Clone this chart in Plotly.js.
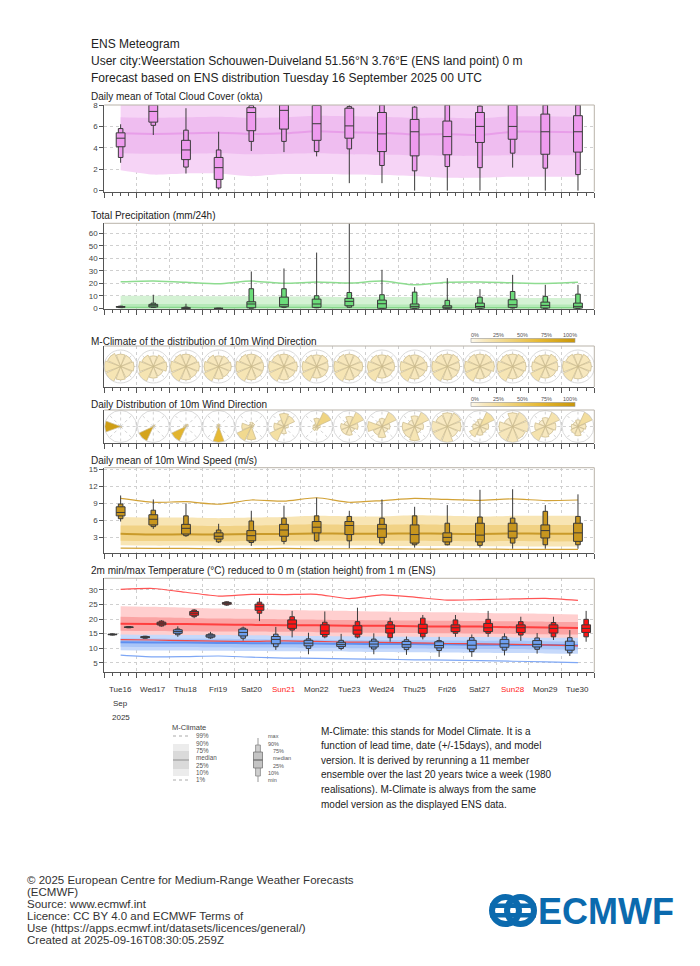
<!DOCTYPE html>
<html><head><meta charset="utf-8">
<script src="https://cdn.plot.ly/plotly-3.0.1.min.js"></script>
<style>html,body{margin:0;padding:0;background:#fff}#chart{width:700px;height:966px}</style>
</head><body><div id="chart"></div>
<script>
// ---------------- DATA ----------------
const dates = ['2025-09-16','2025-09-17','2025-09-18','2025-09-19','2025-09-20','2025-09-21','2025-09-22','2025-09-23','2025-09-24','2025-09-25','2025-09-26','2025-09-27','2025-09-28','2025-09-29','2025-09-30'];
const dayLabels = ['Tue16','Wed17','Thu18','Fri19','Sat20','Sun21','Mon22','Tue23','Wed24','Thu25','Fri26','Sat27','Sun28','Mon29','Tue30'];

// Total cloud cover (okta)
const cloudMin = [2.6,5.2,1.6,0.1,3.7,3.6,3.2,0.7,0.7,0.0,0.0,0.0,2.15,0.0,0.0];
const cloudP10 = [3.1,6.1,2.2,0.25,4.6,4.6,3.65,3.9,2.35,1.85,2.25,2.15,3.5,2.1,1.5];
const cloudP25 = [4.1,6.4,2.9,1.05,5.6,5.75,4.7,4.9,3.65,3.25,3.35,4.5,4.8,3.4,3.6];
const cloudMed = [4.9,7.4,3.8,2.15,7.3,7.5,6.25,6.05,5.3,5.5,5.05,6.0,6.0,5.5,5.5];
const cloudP75 = [5.4,8.0,4.7,3.1,7.75,8.0,7.95,7.7,7.3,6.65,6.5,7.3,8.0,7.15,7.0];
const cloudP90 = [5.8,8.0,5.65,3.8,7.95,8.0,8.0,7.85,8.0,7.8,8.0,7.9,8.0,8.0,8.0];
const cloudMax = [6.2,8.0,7.7,5.5,8.0,8.0,8.0,8.0,8.0,7.9,8.0,8.0,8.0,8.0,8.0];
const cloudClim10 = [1.9,1.5,1.6,1.6,1.35,1.55,1.55,1.5,1.45,1.35,1.2,1.2,1.3,1.3,1.3];
const cloudClim25 = [3.5,3.45,3.45,3.5,3.4,3.45,3.5,3.4,3.35,3.3,3.25,3.25,3.3,3.3,3.3];
const cloudClimMed = [5.35,5.3,5.35,5.4,5.3,5.35,5.55,5.45,5.4,5.25,5.3,5.2,5.5,5.5,5.45];
const cloudClim75 = [6.85,6.8,6.85,6.9,6.8,6.85,7.0,6.95,6.9,6.8,6.8,6.75,6.95,6.95,6.9];
const cloudClim90 = [8,8,8,8,8,8,8,8,8,8,8,8,8,8,8];

// Total precipitation (mm/24h)
const precMin = [0.4,0.3,0,0,0,0.2,0.2,0.5,0,0,0,0,0,0,0];
const precP10 = [0.6,0.8,0,0,0.1,0.8,0.5,0.9,0,0,0,0,0.3,0,0];
const precP25 = [0.9,1.1,0.05,0,0.5,1.3,0.8,2.1,0.1,0.2,0.1,0.2,0.8,0.3,0.2];
const precMed = [1.2,2.1,0.2,0,3.5,2.9,3.5,5.6,3.7,1.6,0.9,1.5,2.9,2.4,1.6];
const precP75 = [1.5,3.2,0.5,0,5.3,9.0,7.4,8.0,6.6,3.5,2.1,4.2,6.9,5.0,4.2];
const precP90 = [1.8,4.2,1.0,0,15.7,15.7,10.1,12.7,10.9,13.0,6.4,9.0,13.5,9.6,11.4];
const precMax = [2.0,10.9,3.7,0,29.5,31.9,44.6,72,30.8,17.0,24.2,15.4,26.8,18.8,18.8];
const precClim25 = [0,0,0,0,0,0,0,0,0,0,0,0,0,0,0];
const precClimMed = [0.6,0.6,0.6,0.5,0.6,0.6,0.6,0.5,0.5,0.5,0.5,0.5,0.5,0.5,0.5];
const precClim75 = [3.5,3.4,3.4,3.3,3.3,3.3,3.2,3.2,3.1,3.1,3.1,3.0,3.0,3.0,3.0];
const precClim90 = [10.1,10.0,9.9,9.7,9.6,9.4,9.3,9.1,9.0,8.9,8.7,8.6,8.5,8.3,8.2];
const precClim99 = [21.2,21.9,20.8,19.7,21.8,20.0,21.1,20.2,21.8,18.8,20.9,21.1,20.4,19.9,20.8];

// Wind direction frequencies (%) per sector
const dirs = ['N','NE','E','SE','S','SW','W','NW'];
const climRose = [
 [12,12,13,12,13,16,16,14],[11,13,14,11,12,17,15,13],[12,12,13,12,13,16,15,13],[11,12,13,12,13,17,15,13],
 [12,12,12,12,13,16,15,13],[12,12,13,12,13,16,15,13],[12,13,12,12,12,17,15,13],[12,12,13,12,13,16,15,13],
 [12,13,13,12,12,17,15,13],[12,12,13,12,13,17,15,13],[12,13,12,12,13,16,15,13],[12,13,14,12,12,16,15,13],
 [12,13,13,12,12,16,15,13],[12,14,13,12,12,17,14,13],[12,13,13,12,12,16,15,13]];
const dailyRose = [
 [0,0,0,8,0,0,92,0],[4,10,0,0,0,86,0,0],[8,12,0,0,0,70,10,0],[10,7,0,0,65,10,0,8],
 [8,7,4,3,25,30,18,5],[18,16,6,4,10,22,14,10],[18,35,8,6,8,10,8,7],[14,22,12,8,12,12,12,8],
 [10,20,10,8,14,12,18,8],[12,18,10,8,16,14,14,8],[12,13,12,10,14,14,14,11],[10,22,12,10,12,16,10,8],
 [12,14,14,12,14,14,12,8],[10,18,12,10,12,18,12,8],[10,24,12,10,14,12,10,8]];
const roseTicks = ['0%','25%','50%','75%','100%'];

// 10m wind speed (m/s)
const windMin = [5.8,4.5,3.1,2.0,1.5,1.8,2.2,1.1,1.6,1.2,1.6,1.2,1.0,1.0,1.0];
const windP10 = [6.3,4.9,3.3,2.2,2.1,2.3,2.4,2.4,2.0,1.7,1.7,1.6,2.0,1.7,1.7];
const windP25 = [6.8,5.2,3.6,2.7,2.4,3.2,3.8,3.5,3.0,2.0,2.2,2.2,2.9,2.9,2.3];
const windMed = [7.4,6.2,4.6,3.2,3.3,4.3,4.8,5.1,4.5,3.5,3.0,3.4,4.1,4.2,3.8];
const windP75 = [8.4,7.0,5.3,3.8,4.2,5.3,5.8,5.8,5.3,5.2,3.8,5.5,5.5,5.2,5.5];
const windP90 = [8.9,7.8,6.8,4.3,5.9,6.4,6.8,6.7,6.4,6.8,5.5,6.6,6.4,7.6,6.7];
const windMax = [10.4,9.7,9.0,5.4,7.7,8.6,10.0,7.7,9.7,8.4,8.7,11.4,11.5,8.7,10.6];
const windClim1 = [1.1,1.05,1.05,1.0,1.0,1.05,1.0,1.0,1.0,0.95,0.95,0.95,0.9,0.9,0.9];
const windClim10 = [1.6,1.55,1.55,1.5,1.55,1.55,1.55,1.55,1.5,1.5,1.5,1.45,1.45,1.4,1.4];
const windClim25 = [2.4,2.35,2.35,2.3,2.35,2.4,2.4,2.4,2.4,2.4,2.35,2.3,2.35,2.3,2.3];
const windClimMed = [3.65,3.5,3.55,3.5,3.6,3.6,3.7,3.65,3.65,3.7,3.65,3.6,3.7,3.65,3.65];
const windClim75 = [5.1,5.1,5.1,5.0,5.1,5.2,5.3,5.2,5.2,5.3,5.2,5.2,5.2,5.2,5.2];
const windClim90 = [6.6,6.5,6.5,6.4,6.5,6.6,6.8,6.7,6.7,6.9,6.8,6.7,6.8,6.8,6.8];
const windClim99 = [9.9,9.2,9.3,8.85,9.6,9.4,10.0,9.2,9.5,9.9,9.7,9.55,9.8,9.5,9.6];

// 2m max temperature (°C)
const tmaxMin = [16.9,17.4,20.3,24.5,19.3,13.7,13.4,13.4,12.2,13.0,13.9,13.9,12.5,12.8,12.2];
const tmaxP10 = [17.0,17.6,20.8,24.8,22.0,16.2,13.9,13.8,13.6,13.9,15.1,15.1,14.5,13.9,13.9];
const tmaxP25 = [17.1,18.0,21.3,25.1,23.0,16.8,14.7,14.8,15.2,15.1,15.7,15.7,15.4,15.2,15.4];
const tmaxMed = [17.2,18.4,22.0,25.4,24.2,18.3,15.9,16.2,16.8,16.8,17.0,17.0,17.0,16.8,16.8];
const tmaxP75 = [17.3,18.9,22.6,25.7,25.1,19.7,18.0,17.7,18.0,18.2,18.0,18.5,18.0,18.0,18.0];
const tmaxP90 = [17.4,19.3,23.1,25.9,25.8,20.8,18.9,19.1,19.1,20.3,19.7,19.9,19.1,18.8,19.9];
const tmaxMax = [17.5,19.6,23.4,26.1,27.2,22.8,22.6,23.9,20.5,21.4,21.4,22.8,20.8,20.8,22.8];
const tmaxClim1 = [12.9,12.8,12.6,12.4,12.3,12.5,12.3,12.1,12.0,11.8,11.6,11.5,11.3,11.1,10.8];
const tmaxClim10 = [14.3,14.2,14.1,14.0,13.9,13.9,13.8,13.7,13.6,13.5,13.4,13.3,13.2,13.0,12.9];
const tmaxClim25 = [16.0,15.9,15.8,15.7,15.7,15.6,15.5,15.4,15.3,15.2,15.1,15.0,14.9,14.8,14.7];
const tmaxClimMed = [18.4,18.3,18.3,18.1,18.0,17.9,17.9,17.7,17.7,17.5,17.4,17.4,17.2,17.1,16.9];
const tmaxClim75 = [20.8,20.6,20.4,20.2,20.1,19.9,19.8,19.7,19.6,19.5,19.4,19.3,19.2,19.1,19.0];
const tmaxClim90 = [24.4,24.2,23.9,23.6,23.4,23.2,22.9,22.8,22.6,22.4,22.3,22.1,22.0,21.8,21.6];
const tmaxClim99 = [30.2,30.5,29.2,27.9,28.5,28.4,28.5,27.0,28.3,27.5,26.5,26.7,26.9,27.1,26.4];

// 2m min temperature (°C)
const tminMin = [14.4,13.3,13.9,13.2,12.6,9.4,7.9,9.3,7.9,7.7,7.0,7.0,7.5,8.1,7.3];
const tminP10 = [14.5,13.4,14.6,13.5,13.4,10.5,9.9,9.9,9.7,9.5,9.2,8.8,9.3,9.6,8.4];
const tminP25 = [14.6,13.6,15.1,13.8,14.2,11.5,10.8,10.6,10.4,10.3,10.1,9.7,10.3,10.4,9.3];
const tminMed = [14.7,13.8,15.7,14.2,15.4,13.0,11.7,11.3,11.4,11.2,10.9,11.0,11.5,11.3,10.9];
const tminP75 = [14.8,13.95,16.3,14.6,16.5,14.0,12.7,12.0,12.4,12.3,12.2,12.7,13.0,12.6,12.4];
const tminP90 = [14.9,14.1,16.6,14.9,16.9,14.8,13.2,12.7,13.1,12.9,12.6,13.6,13.9,13.5,13.6];
const tminMax = [15.0,14.2,17.5,15.6,17.4,17.3,15.3,14.9,15.1,14.0,13.9,14.7,15.1,15.2,16.2];
const tminClim1 = [7.6,7.0,7.1,7.3,6.9,6.6,6.5,6.3,6.2,6.0,5.9,5.7,5.5,5.3,5.0];
const tminClim10 = [9.3,9.2,9.2,9.1,9.0,8.9,8.9,8.8,8.7,8.6,8.5,8.4,8.3,8.2,8.1];
const tminClim25 = [10.5,10.4,10.4,10.3,10.2,10.2,10.1,10.0,9.9,9.9,9.8,9.7,9.7,9.6,9.5];
const tminClimMed = [12.0,11.9,11.9,11.8,11.7,11.7,11.6,11.5,11.4,11.4,11.3,11.2,11.1,11.1,11.0];
const tminClim75 = [13.4,13.3,13.2,13.2,13.1,13.0,12.9,12.8,12.7,12.7,12.6,12.5,12.5,12.4,12.3];
const tminClim90 = [14.7,14.6,14.5,14.5,14.4,14.3,14.2,14.1,14.0,13.9,13.8,13.8,13.7,13.6,13.6];

// ---------------- LAYOUT HELPERS ----------------
const W = 700, H = 966;
const fx = p => p / W, fy = p => 1 - p / H;
const X0 = 104.3, X1 = 594.3;
const FONT = 'Liberation Sans, Arial, sans-serif';
const noon = dates.map(d => d + ' 12:00');
const morning = dates.map(d => d + ' 06:00');
const evening = dates.map(d => d + ' 18:00');
const DAY = 86400000;
const BW_IN = 0.27 * DAY, BW_OUT = 0.14 * DAY;

const P = { // top, bottom in pixels
  cloud: [105, 191.5], prec: [223.3, 309], clim: [346, 387], daily: [410, 443], wind: [467.7, 552.7], temp: [578.3, 672.3]
};

function xAxis(anchor) {
  return {domain: [fx(X0), fx(X1)], anchor, type: 'date', range: ['2025-09-16', '2025-10-01'],
    tickmode: 'linear', tick0: '2025-09-16', dtick: DAY, ticks: 'outside', ticklen: 5, tickcolor: '#555', tickwidth: 1,
    showticklabels: false, showgrid: true, gridcolor: '#cfcfcf', griddash: 'dot', gridwidth: 1,
    showline: true, linecolor: '#555', linewidth: 1, zeroline: false, fixedrange: true,
    minor: {tick0: '2025-09-16', dtick: DAY / 4, ticks: 'outside', ticklen: 3, tickcolor: '#555', showgrid: false}};
}
function yAxis(anchor, pan, range, tickvals) {
  const a = {domain: [fy(pan[1]), fy(pan[0])], anchor, range, zeroline: false, fixedrange: true,
    showline: true, linecolor: '#555', linewidth: 1};
  if (tickvals) {
    Object.assign(a, {tickmode: 'array', tickvals, ticks: 'outside', ticklen: 4, tickcolor: '#555',
      tickfont: {size: 8, color: '#444', family: FONT}, showgrid: true, gridcolor: '#cfcfcf', griddash: 'dot'});
  } else {
    Object.assign(a, {showticklabels: false, ticks: '', showgrid: false});
  }
  return a;
}
function overlayY(base, range, anchor) {
  return {overlaying: base, range, visible: false, fixedrange: true, anchor};
}

const traces = [];
function band(xa, ya, lo, hi, color) {
  traces.push({type: 'scatter', x: noon, y: lo, mode: 'lines', line: {width: 0, shape: 'spline', smoothing: 0.6}, xaxis: xa, yaxis: ya, hoverinfo: 'skip', showlegend: false});
  traces.push({type: 'scatter', x: noon, y: hi, mode: 'lines', line: {width: 0, shape: 'spline', smoothing: 0.6}, fill: 'tonexty', fillcolor: color, xaxis: xa, yaxis: ya, hoverinfo: 'skip', showlegend: false});
}
function cline(xa, ya, y, color, width) {
  traces.push({type: 'scatter', x: noon, y, mode: 'lines', line: {color, width, shape: 'spline', smoothing: 0.6}, xaxis: xa, yaxis: ya, hoverinfo: 'skip', showlegend: false});
}
function boxes(xa, ya, xs, mn, p10, p25, med, p75, p90, mx, fill) {
  traces.push({type: 'box', x: xs, lowerfence: mn, q1: p10, median: med, q3: p90, upperfence: mx, width: BW_OUT, whiskerwidth: 0,
    fillcolor: fill, line: {color: '#3a3a3a', width: 1}, boxpoints: false, hoverinfo: 'skip', xaxis: xa, yaxis: ya, showlegend: false});
  traces.push({type: 'box', x: xs, lowerfence: p25, q1: p25, median: med, q3: p75, upperfence: p75, width: BW_IN, whiskerwidth: 0,
    fillcolor: fill, line: {color: '#3a3a3a', width: 1}, boxpoints: false, hoverinfo: 'skip', xaxis: xa, yaxis: ya, showlegend: false});
}

// dummy traces so frames 3/4 exist
traces.push({type: 'scatter', x: [], y: [], xaxis: 'x3', yaxis: 'y3', showlegend: false});
traces.push({type: 'scatter', x: [], y: [], xaxis: 'x4', yaxis: 'y4', showlegend: false});

// Cloud
band('x', 'y', cloudClim10, cloudClim90, '#f6d4f6');
band('x', 'y', cloudClim25, cloudClim75, '#efbdf0');
cline('x', 'y', cloudClimMed, '#e89ee9', 2);
boxes('x', 'y7', noon, cloudMin, cloudP10, cloudP25, cloudMed, cloudP75, cloudP90, cloudMax, '#ee9bee');
// Precip
band('x2', 'y2', precClim25, precClim90, '#d4f2d4');
band('x2', 'y2', precClim25, precClim75, '#b6e9b8');
cline('x2', 'y2', precClimMed, '#86d88a', 1.5);
cline('x2', 'y2', precClim99, '#8edc90', 1.5);
boxes('x2', 'y8', noon, precMin, precP10, precP25, precMed, precP75, precP90, precMax, '#6cdc7a');
// Wind
band('x5', 'y5', windClim10, windClim90, '#f8e5b4');
band('x5', 'y5', windClim25, windClim75, '#f1d285');
cline('x5', 'y5', windClimMed, '#c99a2a', 2);
cline('x5', 'y5', windClim1, '#d2a237', 1.2);
cline('x5', 'y5', windClim99, '#d2a237', 1.2);
boxes('x5', 'y9', noon, windMin, windP10, windP25, windMed, windP75, windP90, windMax, '#c8961e');
// Temperature
band('x6', 'y6', tmaxClim10, tmaxClim90, '#ffcfcf');
band('x6', 'y6', tmaxClim25, tmaxClim75, '#fba4a4');
band('x6', 'y6', tminClim10, tminClim90, '#c6d9fb');
band('x6', 'y6', tminClim25, tminClim75, '#a9c5f8');
cline('x6', 'y6', tminClimMed, '#5f8ff0', 2);
cline('x6', 'y6', tminClim1, '#7ea7f5', 1.2);
cline('x6', 'y6', tmaxClimMed, '#ff3f3f', 2);
cline('x6', 'y6', tmaxClim1, '#ee4a4a', 1.2);
cline('x6', 'y6', tmaxClim99, '#ff5555', 1.2);
boxes('x6', 'y10', morning, tminMin, tminP10, tminP25, tminMed, tminP75, tminP90, tminMax, '#6e9ff0');
boxes('x6', 'y10', evening, tmaxMin, tmaxP10, tmaxP25, tmaxMed, tmaxP75, tmaxP90, tmaxMax, '#ff1414');

// Wind roses
const roseScale = [[0, '#fdf8ea'], [0.12, '#f7e8bf'], [0.3, '#f1d98f'], [0.65, '#e6b934'], [1, '#c8960a']];
const layoutPolar = {};
const dayW = (X1 - X0) / dates.length;
function rose(rows, cy, startIdx, cbTop, R) {
  rows.forEach((vals, i) => {
    const n = startIdx + i;
    const key = n === 1 ? 'polar' : 'polar' + n;
    const cx = X0 + dayW * (i + 0.5);
    const tr = {type: 'barpolar', r: vals, theta: dirs, subplot: key, hoverinfo: 'skip', showlegend: false,
      marker: {color: vals, colorscale: roseScale, cmin: 0, cmax: 100, line: {color: '#c9b88a', width: 0.7}, showscale: i === 0}};
    if (i === 0) {
      tr.marker.colorbar = {orientation: 'h', x: fx(471), xanchor: 'left', y: fy(cbTop + 5), yanchor: 'bottom',
        len: 104, lenmode: 'pixels', thickness: 4, thicknessmode: 'pixels', outlinewidth: 0.6, outlinecolor: '#999',
        showticklabels: false, ticks: '', xpad: 0, ypad: 0};
    }
    traces.push(tr);
    layoutPolar[key] = {domain: {x: [fx(cx - R), fx(cx + R)], y: [fy(cy + R), fy(cy - R)]}, bgcolor: 'rgba(0,0,0,0)',
      angularaxis: {type: 'category', categoryarray: dirs, direction: 'clockwise', rotation: 90, showticklabels: false, ticks: '',
        showline: true, linecolor: '#d0d0d0', linewidth: 0.8, showgrid: true, gridcolor: '#d2d2d2', griddash: 'dot'},
      radialaxis: {visible: false, range: [0, Math.max(...vals)]}};
  });
}
rose(climRose, (P.clim[0] + P.clim[1]) / 2, 1, 338, 16.5);
rose(dailyRose, (P.daily[0] + P.daily[1]) / 2, 16, 402, 16);

// ---------------- ANNOTATIONS ----------------
const ann = [];
function txt(text, x, y, size, color, anchor, family) {
  ann.push({text, x: fx(x), y: fy(y), xref: 'paper', yref: 'paper', xanchor: anchor || 'left', yanchor: 'middle',
    showarrow: false, borderpad: 0, font: {size, color: color || '#222', family: family || FONT}});
}
txt('ENS Meteogram', 90, 44, 12, '#222');
txt('User city:Weerstation Schouwen-Duiveland 51.56°N 3.76°E (ENS land point) 0 m', 90, 61, 12, '#222');
txt('Forecast based on ENS distribution Tuesday 16 September 2025 00 UTC', 90, 78, 12, '#222');
txt('Daily mean of Total Cloud Cover (okta)', 90, 97, 10, '#222');
txt('Total Precipitation (mm/24h)', 90, 216, 10, '#222');
txt('M-Climate of the distribution of 10m Wind Direction', 90, 341, 10, '#222');
txt('Daily Distribution of 10m Wind Direction', 90, 405, 10, '#222');
txt('Daily mean of 10m Wind Speed (m/s)', 90, 460, 10, '#222');
txt('2m min/max Temperature (°C) reduced to 0 m (station height) from 1 m (ENS)', 90, 570, 10, '#222');
// colorbar labels
const cbX = [475, 498, 522, 546, 570];
[335, 399].forEach(yy => roseTicks.forEach((t, k) => txt(t, cbX[k], yy, 5.5, '#555', 'center')));
// day labels
dayLabels.forEach((d, i) => {
  ann.push({text: d, x: noon[i], xref: 'x6', y: fy(689), yref: 'paper', showarrow: false, xanchor: 'center', yanchor: 'middle', borderpad: 0,
    font: {size: 8, color: d.startsWith('Sun') ? '#ff2020' : '#333', family: FONT}});
});
ann.push({text: 'Sep', x: noon[0], xref: 'x6', y: fy(703), yref: 'paper', showarrow: false, xanchor: 'center', yanchor: 'middle', borderpad: 0, font: {size: 8, color: '#333', family: FONT}});
ann.push({text: '2025', x: noon[0], xref: 'x6', y: fy(717), yref: 'paper', showarrow: false, xanchor: 'center', yanchor: 'middle', borderpad: 0, font: {size: 8, color: '#333', family: FONT}});
// legend labels
txt('M-Climate', 171, 727.5, 7.5, '#444');
[['99%', 735.5], ['90%', 743], ['75%', 750], ['median', 757], ['25%', 765], ['10%', 772], ['1%', 779]].forEach(([t, y]) => txt(t, 195, y, 6.3, '#555'));
[['max', 267, 736], ['90%', 267, 744], ['75%', 272, 751], ['median', 272, 758], ['25%', 272, 766], ['10%', 267, 773], ['min', 267, 780]].forEach(([t, x, y]) => txt(t, x, y, 5.5, '#555'));
// explanatory text
['M-Climate: this stands for Model Climate. It is a', 'function of lead time, date (+/-15days), and model',
 'version. It is derived by rerunning a 11 member', 'ensemble over the last 20 years twice a week (1980',
 'realisations). M-Climate is always from the same', 'model version as the displayed ENS data.'].forEach((t, k) => txt(t, 320, 731 + k * 14.6, 10, '#222'));
// footer
['© 2025 European Centre for Medium-Range Weather Forecasts', '(ECMWF)', 'Source: www.ecmwf.int', 'Licence: CC BY 4.0 and ECMWF Terms of',
 'Use (https://apps.ecmwf.int/datasets/licences/general/)', 'Created at 2025-09-16T08:30:05.259Z'].forEach((t, k) => txt(t, 26, 880 + k * 12, 11.5, '#333'));
// logo text
txt('<b>ECMWF</b>', 537, 911, 36, '#0b6aae', 'left');

// ---------------- SHAPES ----------------
const shapes = [];
function pshape(o) { shapes.push(Object.assign({xref: 'paper', yref: 'paper'}, o)); }
Object.values(P).forEach(([t, b]) => {
  pshape({type: 'line', x0: fx(X0), x1: fx(X1), y0: fy(t), y1: fy(t), line: {color: '#b9b3a9', width: 1}});
  pshape({type: 'line', x0: fx(X1), x1: fx(X1), y0: fy(t), y1: fy(b), line: {color: '#b9b3a9', width: 1}});
});
// M-Climate legend
pshape({type: 'line', x0: fx(173), x1: fx(189), y0: fy(736), y1: fy(736), line: {color: '#aaa', width: 1, dash: 'dot'}});
pshape({type: 'line', x0: fx(173), x1: fx(189), y0: fy(780), y1: fy(780), line: {color: '#aaa', width: 1, dash: 'dot'}});
pshape({type: 'rect', x0: fx(173), x1: fx(189), y0: fy(776), y1: fy(744), fillcolor: '#ececec', line: {width: 0}});
pshape({type: 'rect', x0: fx(173), x1: fx(189), y0: fy(769), y1: fy(751), fillcolor: '#dadada', line: {width: 0}});
pshape({type: 'line', x0: fx(173), x1: fx(189), y0: fy(760), y1: fy(760), line: {color: '#a8a8a8', width: 1.5}});
// box legend
pshape({type: 'line', x0: fx(258), x1: fx(258), y0: fy(738), y1: fy(782), line: {color: '#999', width: 1}});
pshape({type: 'rect', x0: fx(255.6), x1: fx(260.4), y0: fy(776), y1: fy(745), fillcolor: '#cfcfcf', line: {color: '#888', width: 0.8}});
pshape({type: 'rect', x0: fx(253.5), x1: fx(262.5), y0: fy(768), y1: fy(752), fillcolor: '#c4c4c4', line: {color: '#777', width: 0.8}});
pshape({type: 'line', x0: fx(253.5), x1: fx(262.5), y0: fy(760), y1: fy(760), line: {color: '#555', width: 1}});
// logo symbol
const LB = '#0b6aae';
pshape({type: 'circle', x0: fx(492), x1: fx(519), y0: fy(924), y1: fy(897), line: {color: LB, width: 6}});
pshape({type: 'circle', x0: fx(507), x1: fx(534), y0: fy(924), y1: fy(897), line: {color: LB, width: 6}});
pshape({type: 'rect', x0: fx(490), x1: fx(536), y0: fy(908), y1: fy(903.5), fillcolor: LB, line: {width: 0}});
pshape({type: 'rect', x0: fx(490), x1: fx(536), y0: fy(917.5), y1: fy(913), fillcolor: LB, line: {width: 0}});

const layout = Object.assign({
  width: W, height: H, margin: {l: 0, r: 0, t: 0, b: 0}, paper_bgcolor: '#fff', plot_bgcolor: 'rgba(0,0,0,0)',
  showlegend: false, boxmode: 'overlay', font: {family: FONT, size: 9, color: '#333'},
  xaxis: xAxis('y'), yaxis: yAxis('x', P.cloud, [-0.08, 8], [0, 2, 4, 6, 8]),
  xaxis2: xAxis('y2'), yaxis2: yAxis('x2', P.prec, [-0.5, 68], [0, 10, 20, 30, 40, 50, 60]),
  xaxis3: xAxis('y3'), yaxis3: yAxis('x3', P.clim, [0, 1], null),
  xaxis4: xAxis('y4'), yaxis4: yAxis('x4', P.daily, [0, 1], null),
  xaxis5: xAxis('y5'), yaxis5: yAxis('x5', P.wind, [0.3, 15.3], [3, 6, 9, 12, 15]),
  xaxis6: xAxis('y6'), yaxis6: yAxis('x6', P.temp, [1.7, 34], [5, 10, 15, 20, 25, 30]),
  yaxis7: overlayY('y', [-0.08, 8], 'x'), yaxis8: overlayY('y2', [-0.5, 68], 'x2'),
  yaxis9: overlayY('y5', [0.3, 15.3], 'x5'), yaxis10: overlayY('y6', [1.7, 34], 'x6'),
  annotations: ann, shapes
}, layoutPolar);

Plotly.newPlot('chart', traces, layout, {staticPlot: true, displayModeBar: false});
</script>
</body></html>
